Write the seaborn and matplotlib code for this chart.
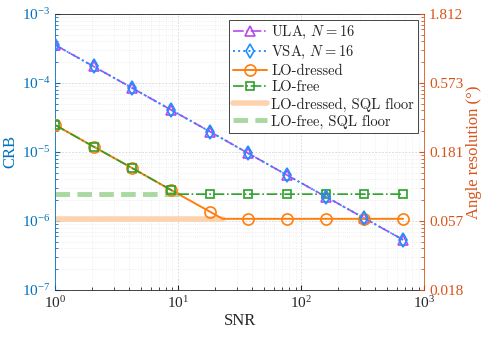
import numpy as np
import matplotlib
matplotlib.use("Agg")
import matplotlib.pyplot as plt
import matplotlib.ticker as mticker
import seaborn as sns

# data
snr = [1, 2.06, 4.25, 8.77, 18.1, 37.3, 76.9, 158.6, 327, 675]
crb_ula = [3.56e-4, 1.73e-4, 8.4e-5, 4.06e-5, 1.97e-5, 9.5e-6, 4.6e-6, 2.24e-6, 1.09e-6, 5.3e-7]
crb_vsa = [3.56e-4, 1.73e-4, 8.4e-5, 4.06e-5, 1.97e-5, 9.5e-6, 4.6e-6, 2.24e-6, 1.09e-6, 5.3e-7]

# LO curves include the knee point where they meet the floor
snr_free = [1, 2.06, 4.25, 8.77, 10.1, 18.1, 37.3, 76.9, 158.6, 327, 675]
crb_free = [2.46e-5, 1.19e-5, 5.8e-6, 2.8e-6, 2.44e-6, 2.44e-6, 2.44e-6, 2.44e-6, 2.44e-6, 2.44e-6, 2.44e-6]
snr_dressed = [1, 2.06, 4.25, 8.77, 18.1, 23, 37.3, 76.9, 158.6, 327, 675]
crb_dressed = [2.46e-5, 1.19e-5, 5.8e-6, 2.8e-6, 1.36e-6, 1.07e-6, 1.07e-6, 1.07e-6, 1.07e-6, 1.07e-6, 1.07e-6]

floor_dressed_x = [1, 23]
floor_dressed_y = [1.07e-6, 1.07e-6]
floor_free_x = [1, 10.1]
floor_free_y = [2.44e-6, 2.44e-6]

sns.set_style("ticks")
plt.rcParams['font.family'] = ['Liberation Serif', 'DejaVu Serif']
plt.rcParams['mathtext.fontset'] = 'stix'

blue_ax = '#0072BD'
orange_ax = '#D95319'

fig = plt.figure(figsize=(4.89, 3.39), dpi=100)
ax = fig.add_axes([0.1125, 0.145, 0.755, 0.814])

sns.lineplot(x=floor_dressed_x, y=floor_dressed_y, ax=ax, color='#FDD3AE', lw=4,
             label='LO-dressed, SQL floor', zorder=1)
sns.lineplot(x=floor_free_x, y=floor_free_y, ax=ax, color='#A9D8A0', lw=3.5,
             linestyle=(0, (3, 1.5)), label='LO-free, SQL floor', zorder=1)

c_ula, c_vsa, c_dr, c_fr = '#B648F2', '#1E8FFF', '#FF7F0E', '#2CA02C'
sns.lineplot(x=snr, y=crb_ula, ax=ax, color=c_ula, lw=1.2, linestyle='-.',
             marker='^', markersize=7, mfc='none', mec=c_ula, mew=1.2,
             label='ULA, $N=16$', zorder=3)
sns.lineplot(x=snr, y=crb_vsa, ax=ax, color=c_vsa, lw=1.4, linestyle=':',
             marker='d', markersize=7, mfc='none', mec=c_vsa, mew=1.2,
             label='VSA, $N=16$', zorder=4)
sns.lineplot(x=snr_dressed, y=crb_dressed, ax=ax, color=c_dr, lw=1.4, linestyle='-',
             marker='o', markersize=8, mfc='none', mec=c_dr, mew=1.2,
             markevery=[0, 1, 2, 3, 4, 6, 7, 8, 9, 10], label='LO-dressed', zorder=3)
sns.lineplot(x=snr_free, y=crb_free, ax=ax, color=c_fr, lw=1.2, linestyle='-.',
             marker='s', markersize=6, mfc='none', mec=c_fr, mew=1.2,
             markevery=[0, 1, 2, 3, 5, 6, 7, 8, 9, 10], label='LO-free', zorder=3)

ax.set_xscale('log')
ax.set_yscale('log')
ax.set_xlim(1, 1000)
ax.set_ylim(1e-7, 1e-3)
ax.grid(True, which='major', color='#d4d4d4', lw=0.6, linestyle=(0, (2, 2)))
ax.grid(True, which='minor', color='#e2e2e2', lw=0.5, linestyle=(0, (1, 2)))
ax.tick_params(axis='both', which='both', direction='in', labelsize=11)
ax.tick_params(axis='y', colors=blue_ax, which='both')
ax.tick_params(axis='x', colors='#262626', which='both')
ax.xaxis.set_major_locator(mticker.LogLocator(base=10, numticks=10))
ax.yaxis.set_major_locator(mticker.LogLocator(base=10, numticks=10))
ax.yaxis.set_minor_locator(mticker.LogLocator(base=10, subs=np.arange(2, 10), numticks=20))
ax.spines['left'].set_color(blue_ax)
ax.spines['right'].set_color(orange_ax)
ax.spines['top'].set_color('#262626')
ax.spines['bottom'].set_color('#262626')
for sp in ax.spines.values():
    sp.set_linewidth(0.6)
ax.set_xlabel('SNR', fontsize=12, color='#262626', labelpad=2)
ax.set_ylabel('CRB', fontsize=12, color=blue_ax, labelpad=2)

# right axis: angle resolution = sqrt(CRB) in degrees
ax2 = ax.twinx()
ax2.set_yscale('log')
ax2.set_ylim(1e-7, 1e-3)
crb_ticks = [1e-7, 1e-6, 1e-5, 1e-4, 1e-3]
ax2.set_yticks(crb_ticks)
ax2.set_yticklabels([f"{np.degrees(np.sqrt(t)):.3f}" for t in crb_ticks])
ax2.yaxis.set_minor_locator(mticker.LogLocator(base=10, subs=np.arange(2, 10), numticks=20))
ax2.yaxis.set_minor_formatter(mticker.NullFormatter())
ax2.tick_params(axis='y', which='both', direction='in', colors=orange_ax, labelsize=11)
ax2.set_ylabel('Angle resolution (°)', fontsize=12, color=orange_ax, labelpad=2)
for sp in ax2.spines.values():
    sp.set_visible(False)

handles, labels = ax.get_legend_handles_labels()
order = ['ULA, $N=16$', 'VSA, $N=16$', 'LO-dressed', 'LO-free', 'LO-dressed, SQL floor', 'LO-free, SQL floor']
hmap = dict(zip(labels, handles))
leg = ax.legend([hmap[l] for l in order], order, loc='upper right',
                frameon=True, fancybox=False, edgecolor='#262626', framealpha=1,
                handlelength=2.3, borderaxespad=0.4, labelspacing=0.2, handletextpad=0.3,
                borderpad=0.3, prop={'family': 'cmr10', 'size': 10.5})
leg.get_frame().set_linewidth(0.6)
for t in leg.get_texts():
    t.set_math_fontfamily('cm')

fig.savefig('out.png', dpi=100)
